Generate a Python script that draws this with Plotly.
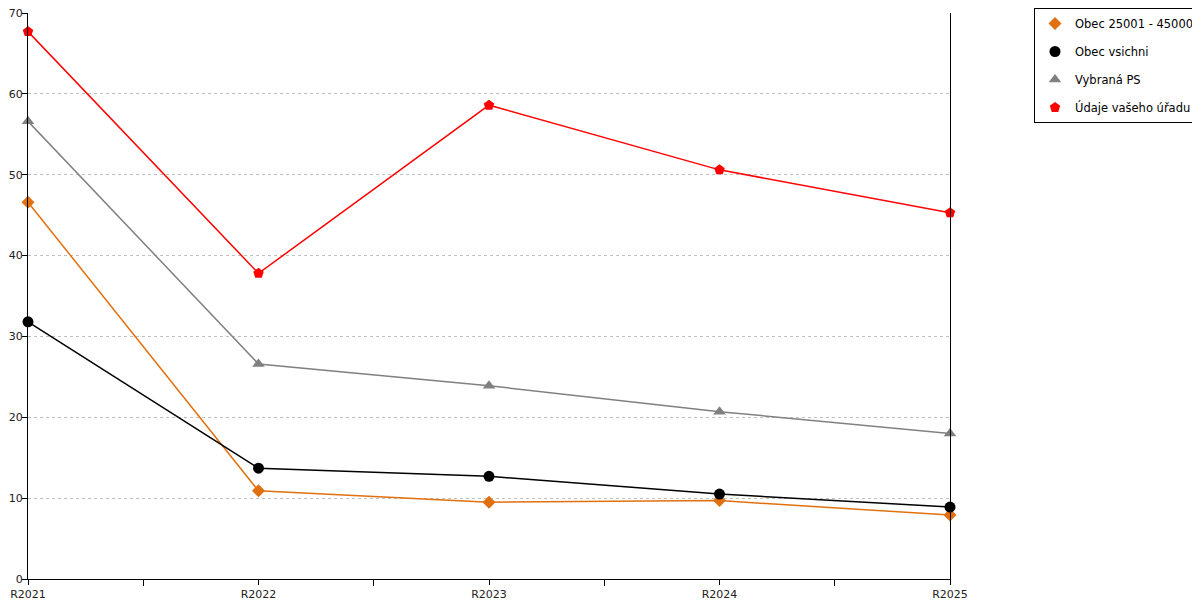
import plotly.graph_objects as go

categories = ["R2021", "R2022", "R2023", "R2024", "R2025"]
obec_25001_45000 = [46.6, 10.9, 9.5, 9.7, 7.9]
obec_vsichni = [31.8, 13.7, 12.7, 10.5, 8.9]
vybrana_ps = [56.6, 26.6, 23.9, 20.7, 18.0]
udaje_uradu = [67.7, 37.8, 58.6, 50.6, 45.3]

series_names = ["Obec 25001 - 45000", "Obec vsichni", "Vybraná PS", "Údaje vašeho úřadu"]
series_values = [obec_25001_45000, obec_vsichni, vybrana_ps, udaje_uradu]
colors = ["#E07010", "#000000", "#808080", "#FF0000"]
symbols = ["diamond", "circle", "triangle-up", "pentagon"]
sizes = [10, 11, 11, 11]

x_idx = list(range(len(categories)))

fig = go.Figure()
for i, (name, vals) in enumerate(zip(series_names, series_values)):
    fig.add_trace(go.Scatter(
        x=x_idx, y=vals, name=name, mode="lines+markers",
        line=dict(color=colors[i], width=1.5),
        marker=dict(symbol=symbols[i], size=sizes[i], color=colors[i]),
        cliponaxis=False, showlegend=False,
    ))
# legend entries (marker only, as in the reference)
for i, name in enumerate(series_names):
    fig.add_trace(go.Scatter(
        x=[None], y=[None], name=name, mode="markers",
        marker=dict(symbol=symbols[i], size=sizes[i], color=colors[i]),
        legendgroup=f"g{i}", showlegend=True,
    ))

# page body adds an 8px offset; figure is sized to the visible area
W, H = 1192, 592
ml, mr, mt, mb = 20, 0, 5, 21
paper_w = W - ml - mr
paper_h = H - mt - mb
plot_w = 922

fig.update_layout(
    width=W, height=H,
    margin=dict(l=ml, r=mr, t=mt, b=mb, autoexpand=False),
    plot_bgcolor="white", paper_bgcolor="white",
    font=dict(family="DejaVu Sans", size=12, color="#222222"),
    showlegend=True,
    legend=dict(
        x=1.0, y=1.0 + mt / paper_h, xanchor="right", yanchor="top",
        bordercolor="black", borderwidth=1, bgcolor="white",
        font=dict(family="DejaVu Sans", size=11.5, color="#000000"),
        tracegroupgap=9, itemwidth=30,
    ),
    xaxis=dict(
        domain=[0, plot_w / paper_w],
        range=[0, 4], tickmode="array", tickvals=x_idx, ticktext=categories,
        showgrid=False, zeroline=False, showline=True, linecolor="black", linewidth=1,
        ticks="outside", ticklen=5, tickcolor="black", automargin=False,
        ticklabeloverflow="allow",
        minor=dict(tickmode="array", tickvals=[0.5, 1.5, 2.5, 3.5], ticks="outside", ticklen=6, tickcolor="black", showgrid=False),
        tickfont=dict(size=11),
    ),
    yaxis=dict(
        domain=[0, 1],
        range=[0, 70], tickmode="linear", tick0=0, dtick=10,
        showgrid=True, gridcolor="#c0c0c0", griddash="3px,3px", gridwidth=1,
        zeroline=False, showline=True, linecolor="black", linewidth=1, mirror=True,
        ticks="outside", ticklen=5, tickcolor="black", automargin=False,
        ticklabelstandoff=-3, ticklabeloverflow="allow",
        tickfont=dict(size=11),
    ),
)

fig.write_html("out.html")
